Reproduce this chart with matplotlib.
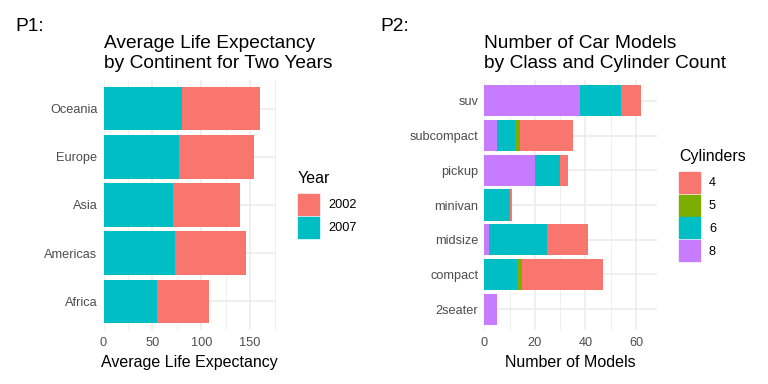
import numpy as np
import matplotlib.pyplot as plt
from matplotlib.patches import Patch

plt.rcParams['font.family'] = ['Liberation Sans', 'DejaVu Sans']

# P1 data: mean life expectancy by continent (gapminder)
continents = ["Africa", "Americas", "Asia", "Europe", "Oceania"]
life_2002 = [53.33, 72.42, 69.23, 76.70, 79.74]
life_2007 = [54.81, 73.61, 70.73, 77.65, 80.72]
years = ["2002", "2007"]

# P2 data: car model counts by class and cylinders (mpg)
classes = ["2seater", "compact", "midsize", "minivan", "pickup", "subcompact", "suv"]
cyl_labels = ["4", "5", "6", "8"]
cyl4 = [0, 32, 16, 1, 3, 21, 8]
cyl5 = [0, 2, 0, 0, 0, 2, 0]
cyl6 = [0, 13, 23, 10, 10, 7, 16]
cyl8 = [5, 0, 2, 0, 20, 5, 38]

hue2 = ["#F8766D", "#00BFC4"]
hue4 = ["#F8766D", "#7CAE00", "#00BFC4", "#C77CFF"]

GRID = "#EBEBEB"
TICK_COL = "#4D4D4D"
W, H = 768, 384


def style_axes(ax, n_cat, xmax, major, minor):
    for s in ax.spines.values():
        s.set_visible(False)
    ax.set_ylim(-0.6, n_cat - 0.4)
    ax.set_xlim(0, xmax * 1.1)
    ax.set_xticks(major)
    ax.set_xticks(minor, minor=True)
    ax.tick_params(axis="both", which="both", length=0, labelsize=9.2, labelcolor=TICK_COL)
    ax.tick_params(axis="y", pad=4.3)
    ax.tick_params(axis="x", pad=5)
    ax.grid(True, which="major", color=GRID, linewidth=1.1)
    ax.grid(True, which="minor", axis="x", color=GRID, linewidth=0.55)
    ax.set_axisbelow(True)


def add_legend(handles, labels, title, x, y):
    leg = fig.legend(handles=handles, labels=labels, title=title,
                     loc="upper left", bbox_to_anchor=(x / W, 1 - y / H), frameon=False,
                     fontsize=9.2, title_fontsize=11.5, handlelength=1.64, handleheight=2.15,
                     handletextpad=0.7, labelspacing=0.15, borderpad=0, borderaxespad=0,
                     alignment="left")
    leg._legend_box.sep = 5.5
    return leg


fig = plt.figure(figsize=(W / 100, H / 100), dpi=100)

# ---- P1
ax1 = fig.add_axes([103.5 / W, 54 / H, 172.5 / W, 250 / H])
y1 = np.arange(len(continents))
ax1.barh(y1, life_2007, height=0.9, color=hue2[1])
ax1.barh(y1, life_2002, left=life_2007, height=0.9, color=hue2[0])
ax1.set_yticks(y1)
ax1.set_yticklabels(continents)
tot1 = np.array(life_2002) + np.array(life_2007)
style_axes(ax1, len(continents), tot1.max(), [0, 50, 100, 150], [25, 75, 125, 175])
ax1.set_xlabel("Average Life Expectancy", fontsize=11.5, labelpad=4.5)
ax1.set_title("Average Life Expectancy\nby Continent for Two Years",
              loc="left", fontsize=13.8, pad=8.5, linespacing=1.25)

add_legend([Patch(color=c) for c in hue2], years, "Year", 298, 171)

# ---- P2
ax2 = fig.add_axes([484.3 / W, 54 / H, 172.4 / W, 250 / H])
y2 = np.arange(len(classes))
left = np.zeros(len(classes))
for vals, col in zip([cyl8, cyl6, cyl5, cyl4], [hue4[3], hue4[2], hue4[1], hue4[0]]):
    ax2.barh(y2, vals, left=left, height=0.9, color=col)
    left += np.array(vals)
ax2.set_yticks(y2)
ax2.set_yticklabels(classes)
style_axes(ax2, len(classes), left.max(), [0, 20, 40, 60], [10, 30, 50])
ax2.set_xlabel("Number of Models", fontsize=11.5, labelpad=4.5)
ax2.set_title("Number of Car Models\nby Class and Cylinder Count",
              loc="left", fontsize=13.8, pad=8.5, linespacing=1.25)

add_legend([Patch(color=c) for c in hue4], cyl_labels, "Cylinders", 679, 149)

fig.text(15 / W, 1 - 31 / H, "P1:", fontsize=13.8, va="baseline")
fig.text(380 / W, 1 - 31 / H, "P2:", fontsize=13.8, va="baseline")

fig.savefig("out.png", dpi=100, facecolor="white")
